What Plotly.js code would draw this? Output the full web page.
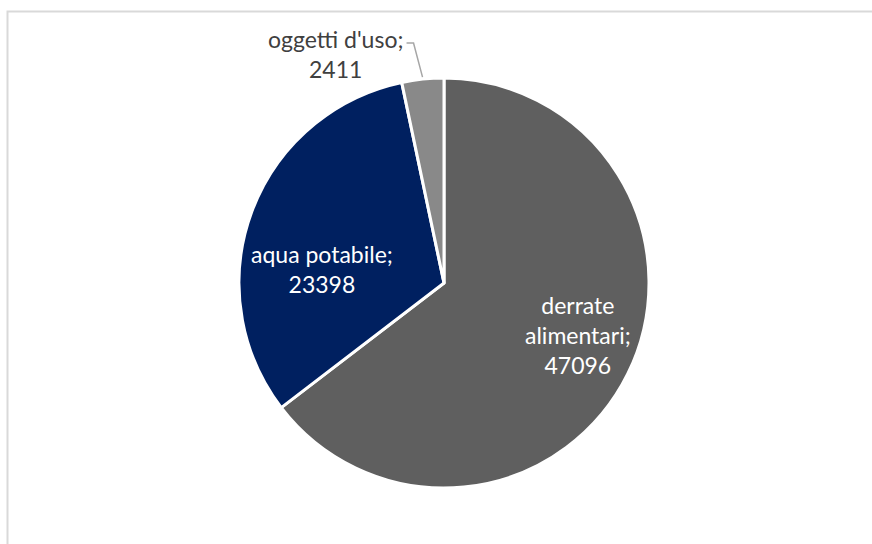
<!DOCTYPE html>
<html>
<head>
<meta charset="utf-8">
<script src="https://cdn.plot.ly/plotly-3.0.1.min.js"></script>
<style>
  html, body { margin: 0; padding: 0; background: #ffffff; }
  #chart { width: 872px; height: 544px; }
</style>
</head>
<body>
<div id="chart"></div>
<script>
// Categories and values
const categories = ["derrate alimentari", "aqua potabile", "oggetti d'uso"];
const values = [47096, 23398, 2411];
// Line-broken label names as shown beside each slice
const labelNames = ["derrate<br>alimentari;", "aqua potabile;", "oggetti d'uso;"];

const sliceColors = ["#5f5f5f", "#002060", "#898989"];
const labelColors = ["#ffffff", "#ffffff", "#404040"];

const W = 872, H = 544;
// Pie geometry in pixels
const cx = 444, cy = 283, R = 205;

// Label anchors (pixel centres) for each slice's text
const labelPos = [[578, 335], [322, 269], [335, 54]];

const total = values.reduce((a, b) => a + b, 0);
const px = x => x / W;
const py = y => 1 - y / H;

const annotations = categories.map((c, i) => ({
  xref: 'paper', yref: 'paper',
  x: px(labelPos[i][0]), y: py(labelPos[i][1]),
  xanchor: 'center', yanchor: 'middle',
  text: labelNames[i] + '<br>' + values[i],
  showarrow: false,
  align: 'center',
  font: { family: 'Lato, "Liberation Sans", sans-serif', size: 23, color: labelColors[i] }
}));

// Leader line for the small slice, starting on the rim at its mid-angle
let cum = 0;
const mids = values.map(v => { const m = (cum + v / 2) / total; cum += v; return m * 2 * Math.PI; });
const a = mids[2];
const ex = cx + (R + 2) * Math.sin(a), ey = cy - (R + 2) * Math.cos(a);
const leader = {
  type: 'path', xref: 'paper', yref: 'paper',
  path: `M ${px(ex)} ${py(ey)} L ${px(ex - 9)} ${py(43)} L ${px(ex - 16)} ${py(43)}`,
  line: { color: '#a6a6a6', width: 1.5 }
};

const frame = {
  type: 'rect', xref: 'paper', yref: 'paper',
  x0: px(7.5), x1: px(W + 10), y0: py(H + 10), y1: py(11.5),
  line: { color: '#d9d9d9', width: 2 }, fillcolor: 'rgba(0,0,0,0)'
};

const trace = {
  type: 'pie',
  labels: categories,
  values: values,
  sort: false,
  direction: 'clockwise',
  rotation: 0,
  textinfo: 'none',
  hoverinfo: 'label+value',
  marker: { colors: sliceColors, line: { color: '#ffffff', width: 3 } },
  domain: { x: [px(cx - R), px(cx + R)], y: [py(cy + R), py(cy - R)] },
  showlegend: false
};

const layout = {
  width: W, height: H,
  margin: { l: 0, r: 0, t: 0, b: 0 },
  paper_bgcolor: '#ffffff',
  showlegend: false,
  annotations: annotations,
  shapes: [frame, leader]
};

Plotly.newPlot('chart', [trace], layout, { displayModeBar: false, staticPlot: true });
</script>
</body>
</html>
